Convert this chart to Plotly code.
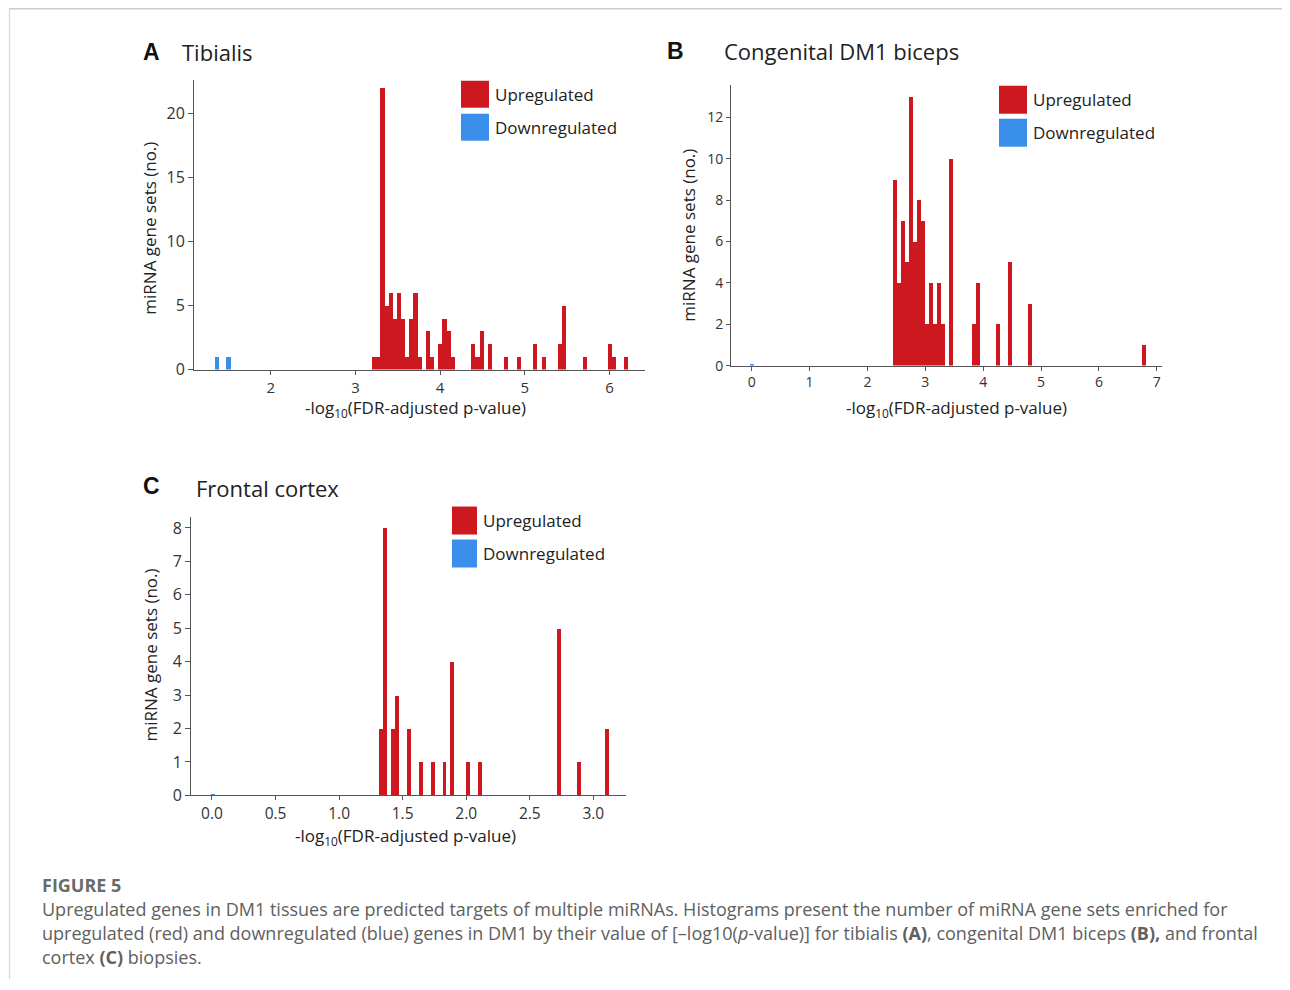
import plotly.graph_objects as go

OFF = 8  # page body margin
W, H = 1290 - OFF, 990 - OFF
SY, Y0 = 0.9893, 0.3  # observed vertical mapping of the rendered page

# ---------------- data ----------------
# Panel A: Tibialis
a_width = 0.0488
a_up_x = [3.221, 3.270, 3.319, 3.368, 3.417, 3.465, 3.514, 3.563, 3.612, 3.661, 3.709, 3.758,
          3.856, 3.905, 4.002, 4.051, 4.100, 4.149, 4.393, 4.442, 4.490, 4.588, 4.783, 4.930,
          5.125, 5.222, 5.417, 5.466, 5.710, 6.003, 6.052, 6.198]
a_up_y = [1, 1, 22, 5, 6, 4, 6, 4, 1, 4, 6, 1,
          3, 1, 2, 4, 3, 1, 2, 1, 3, 2, 1, 1,
          2, 1, 2, 5, 1, 2, 1, 1]
a_down_x = [1.36, 1.50]
a_down_y = [1, 1]

# Panel B: Congenital DM1 biceps
b_width = 0.0683
b_up_x = [2.482, 2.550, 2.619, 2.687, 2.755, 2.823, 2.892, 2.960, 3.028, 3.096, 3.165, 3.233,
          3.301, 3.438, 3.848, 3.916, 4.257, 4.462, 4.803, 6.783]
b_up_y = [9, 4, 7, 5, 13, 6, 8, 7, 2, 4, 2, 4,
          2, 10, 2, 4, 2, 5, 3, 1]
b_down_x = [0.0]
b_down_y = [0.08]

# Panel C: Frontal cortex
c_width = 0.0311
c_up_x = [1.332, 1.363, 1.425, 1.456, 1.549, 1.643, 1.736, 1.829, 1.891, 2.016, 2.109,
          2.731, 2.887, 3.105]
c_up_y = [2, 8, 2, 3, 2, 1, 1, 1, 4, 1, 1, 5, 1, 2]
c_down_x = [0.01]
c_down_y = [0.05]

a_xticks = [2, 3, 4, 5, 6]
a_yticks = [0, 5, 10, 15, 20]
b_xticks = [0, 1, 2, 3, 4, 5, 6, 7]
b_yticks = [0, 2, 4, 6, 8, 10, 12]
c_xticks = [0.0, 0.5, 1.0, 1.5, 2.0, 2.5, 3.0]
c_yticks = [0, 1, 2, 3, 4, 5, 6, 7, 8]

RED = "#CC181E"
BLUE = "#3A8FEA"
AXIS = "#555555"
TXT = "#222222"
FONT = "Open Sans"


def fx(p):
    return (p - OFF) / W


def fy(p):
    q = (p - Y0) / SY
    return 1 - (q - OFF) / H


fig = go.Figure()

panels = [
    ("", a_up_x, a_up_y, a_down_x, a_down_y, a_width),
    ("2", b_up_x, b_up_y, b_down_x, b_down_y, b_width),
    ("3", c_up_x, c_up_y, c_down_x, c_down_y, c_width),
]
for sfx, ux, uy, dx, dy, w in panels:
    fig.add_trace(go.Bar(x=ux, y=uy, width=w, marker=dict(color=RED, line=dict(width=0)),
                         xaxis="x" + sfx, yaxis="y" + sfx, showlegend=False, name="Upregulated"))
    fig.add_trace(go.Bar(x=dx, y=dy, width=w, marker=dict(color=BLUE, line=dict(width=0)),
                         xaxis="x" + sfx, yaxis="y" + sfx, showlegend=False, name="Downregulated"))


def ax(size, ticklen=5):
    return dict(showline=True, linecolor=AXIS, linewidth=1, ticks="outside", ticklen=ticklen,
                tickcolor=AXIS, tickwidth=1, showgrid=False, zeroline=False,
                tickfont=dict(family=FONT, size=size, color="#333333"), fixedrange=True)


fig.update_layout(
    width=W, height=H,
    margin=dict(l=0, r=0, t=0, b=0),
    paper_bgcolor="white", plot_bgcolor="white",
    barmode="overlay", bargap=0,
    showlegend=False,
    xaxis=dict(domain=[fx(194), fx(645)], range=[1.093, 6.42], tickvals=a_xticks,
               anchor="y", **ax(15, 4)),
    yaxis=dict(domain=[fy(370), fy(80)], range=[0, 22.66], tickvals=a_yticks,
               anchor="x", **ax(16)),
    xaxis2=dict(domain=[fx(731), fx(1162)], range=[-0.357, 7.09], tickvals=b_xticks,
                anchor="y2", **ax(14, 4)),
    yaxis2=dict(domain=[fy(366), fy(85)], range=[0, 13.57], tickvals=b_yticks,
                anchor="x2", **ax(14, 4)),
    xaxis3=dict(domain=[fx(191), fx(626)], range=[-0.165, 3.257], tickvals=c_xticks,
                tickformat=".1f", anchor="y3", **ax(15.5, 4)),
    yaxis3=dict(domain=[fy(796), fy(517)], range=[0, 8.34], tickvals=c_yticks,
                anchor="x3", **ax(16)),
)

ann = []
shapes = []


def text(x, y, s, size, xanchor="left", bold=False, color=TXT, family=FONT, angle=0):
    ann.append(dict(x=fx(x), y=fy(y), xref="paper", yref="paper", text=("<b>%s</b>" % s) if bold else s,
                    showarrow=False, xanchor=xanchor, yanchor="middle", textangle=angle,
                    font=dict(family=family, size=size, color=color)))


def rect(x0, y0, x1, y1, color):
    shapes.append(dict(type="rect", xref="paper", yref="paper", x0=fx(x0), x1=fx(x1), y0=fy(y1), y1=fy(y0),
                       fillcolor=color, line=dict(width=0)))


# panel titles
text(141, 52, "A", 23, bold=True, color="#111111", family="Liberation Sans")
text(180, 52, "Tibialis", 22)
text(665, 51, "B", 23, bold=True, color="#111111", family="Liberation Sans")
text(722, 51, "Congenital DM1 biceps", 22)
text(141, 486, "C", 23, bold=True, color="#111111", family="Liberation Sans")
text(194, 488, "Frontal cortex", 22)

# axis titles
xt = "-log<sub>10</sub>(FDR-adjusted p-value)"
yt = "miRNA gene sets (no.)"
text(415, 409, xt, 17, xanchor="center")
text(956, 409, xt, 17, xanchor="center")
text(405, 837, xt, 17, xanchor="center")
text(150, 229, yt, 17, xanchor="center", angle=-90)
text(689, 236, yt, 17, xanchor="center", angle=-90)
text(150, 656, yt, 17, xanchor="center", angle=-90)

# legends
for (lx, ly, bw, bh, gap) in [(461, 81, 28, 27, 33), (999, 86, 28, 28, 33), (452, 507, 25, 28, 33)]:
    rect(lx, ly, lx + bw, ly + bh, RED)
    rect(lx, ly + gap, lx + bw, ly + gap + bh, BLUE)
    text(lx + bw + 4, ly + bh / 2, "Upregulated", 17)
    text(lx + bw + 4, ly + gap + bh / 2, "Downregulated", 17)

# caption
CAP = "#606060"
CF = "Open Sans"
CS = 18.0
text(40, 886, "FIGURE 5", CS, bold=True, color="#6a6a6a", family=CF)
text(40, 910, "Upregulated genes in DM1 tissues are predicted targets of multiple miRNAs. Histograms present the number of miRNA gene sets enriched for", CS, color=CAP, family=CF)
text(40, 934, "upregulated (red) and downregulated (blue) genes in DM1 by their value of [–log10(<i>p</i>-value)] for tibialis <b>(A)</b>, congenital DM1 biceps <b>(B),</b> and frontal", CS, color=CAP, family=CF)
text(40, 958, "cortex <b>(C)</b> biopsies.", CS, color=CAP, family=CF)

# frame lines
shapes.append(dict(type="line", xref="paper", yref="paper", x0=fx(9), x1=1, y0=fy(9), y1=fy(9),
                   line=dict(color="#cccccc", width=1.5)))
shapes.append(dict(type="line", xref="paper", yref="paper", x0=fx(9.5), x1=fx(9.5), y0=fy(9), y1=0,
                   line=dict(color="#d8d8d8", width=1.2)))

fig.update_layout(annotations=ann, shapes=shapes)
fig.write_html("out.html")
